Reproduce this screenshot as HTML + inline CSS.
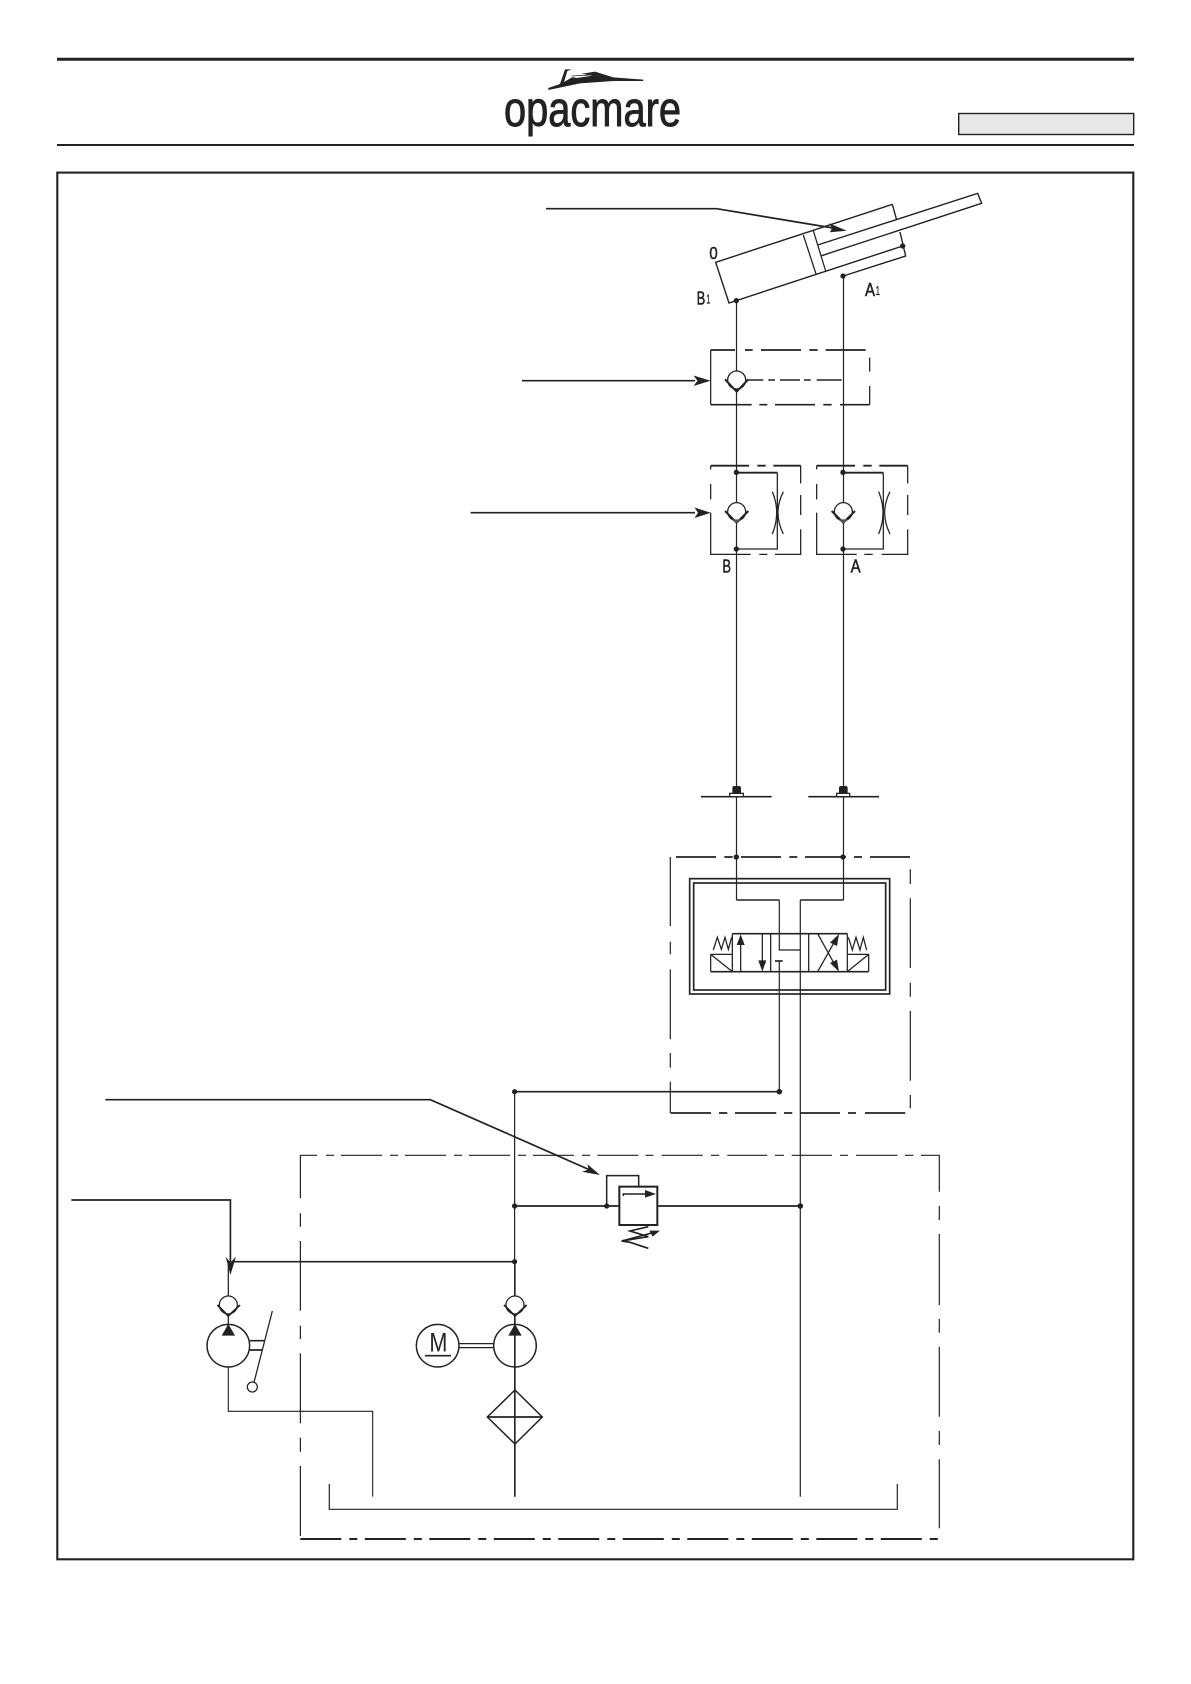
<!DOCTYPE html>
<html><head><meta charset="utf-8"><style>
html,body{margin:0;padding:0;background:#fff}
svg{display:block}
text{font-family:"Liberation Sans",sans-serif;fill:#222;stroke:none}
</style></head><body>
<svg width="1191" height="1684" viewBox="0 0 1191 1684" xmlns="http://www.w3.org/2000/svg">
<rect width="1191" height="1684" fill="#fff"/>
<g fill="none" stroke="#222" stroke-width="1.2">
<!-- header -->
<path d="M57 59.3H1134" stroke-width="3"/>
<path d="M57 145H1134" stroke-width="2"/>
<rect x="958.7" y="113.5" width="175" height="21" fill="#e8e8e8" stroke-width="1.4"/>
<!-- frame -->
<rect x="57.3" y="172.6" width="1076" height="1386.7" stroke-width="2.1"/>

<!-- leaders -->
<path d="M546 208.7H716.7L836 228.5" stroke-width="1.7"/>
<path d="M846.7 230.7L829 223.3L832 228L830 232.3Z" fill="#222" stroke="none"/>
<path d="M522 380.7H695" stroke-width="1.7"/>
<path d="M710.7 380.7L693.5 375.5L697.5 380.7L693.5 386Z" fill="#222" stroke="none"/>
<path d="M470.6 512.7H695" stroke-width="1.7"/>
<path d="M710.7 512.7L694.5 507.5L698 512.7L694.5 518Z" fill="#222" stroke="none"/>
<path d="M105.4 1099.7H430.4L590 1170" stroke-width="1.7"/>
<path d="M600 1175L587.5 1164.3L588.5 1169.5L582 1171.7Z" fill="#222" stroke="none"/>
<path d="M71.4 1200H230.4V1262" stroke-width="1.7"/>
<path d="M230.4 1275L225.7 1256.7L230.4 1262.5L236 1256.7Z" fill="#222" stroke="none"/>

<!-- main pipes -->
<path d="M736.5 300V900M843.5 276V900"/>
<path d="M736.5 900H779.3M800.3 900H843.5" stroke-width="1.6"/>
<path d="M779.3 900V950H800.3M800.3 900V1496.7M779.3 961V1091.7"/>
<path d="M514.6 1091.7V1496.7"/>
<path d="M514.6 1091.7H779.3M514.6 1206H800.3M232 1261.7H514.6" stroke-width="1.7"/>
<g fill="#222" stroke="none">
<circle cx="514.6" cy="1091.7" r="2.6"/><circle cx="779.3" cy="1091.7" r="2.8"/>
<circle cx="514.6" cy="1206" r="2.6"/><circle cx="606.7" cy="1206" r="2.6"/>
<circle cx="800.3" cy="1206" r="2.8"/><circle cx="514.6" cy="1261.7" r="2.6"/>
</g>

<!-- big dash box 2 -->
<path d="M939.3 1155.3H921M913.3 1155.3H905M897.3 1155.3H856M848 1155.3H840M832 1155.3H791.7M784 1155.3H775M767.3 1155.3H727.3M719.3 1155.3H711M702.7 1155.3H661.7M653.5 1155.3H645.5M638.4 1155.3H597.4M590 1155.3H582M574 1155.3H533M526 1155.3H518M510 1155.3H469M462 1155.3H454M446 1155.3H405M398 1155.3H390M382 1155.3H341M334 1155.3H326M317 1155.3H300.4"/>
<path d="M300.4 1155V1198.3M300.4 1213.3V1226.7M300.4 1241V1310.7M300.4 1325.7V1339M300.4 1353.3V1423.3M300.4 1437.7V1451.7M300.4 1466V1536"/>
<path d="M939.3 1155V1191.7M939.3 1206V1220M939.3 1234V1305M939.3 1319V1332.7M939.3 1346.7V1416.7M939.3 1431V1445M939.3 1459.3V1528.3"/>
<path d="M300.3 1539H938.3" stroke-width="2" stroke-dasharray="41 8 8 7.5"/>
<path d="M329.3 1484V1509.3H897.3V1484"/>

<!-- dash box 1 (valve) -->
<path d="M670.3 857V926M670.3 941.7V954.3M670.3 969.3V1039.3M670.3 1053V1067.7M670.3 1081.7V1113"/>
<path d="M910.3 869.3V884M910.3 898.3V968M910.3 982.7V996.7M910.3 1011V1080.7M910.3 1095V1108.3"/>
<path d="M670.7 1113H711M719 1113H727.3M735 1113H776.3M784 1113H792.3M800.3 1113H840M848 1113H856M865 1113H905.3" stroke-width="1.8"/>
</g>

<!-- zoom group: cylinder / check -->
<g transform="translate(680 170) scale(.33333)" fill="none" stroke="#222" stroke-width="3.8">
<path d="M637 103L107 277L147 399L668 228" stroke-width="4.2"/>
<path d="M637 103L650 150M660 186L677 258L490 318" stroke-width="4.2"/>
<path d="M370 195L408 312M400 182L437 303"/>
<path d="M413 225L893 70L905 100L425 257" stroke-width="4.2"/>
<path d="M92 540H165M195 540H218M243 540H363M388 540H413M437 540H557M92 704H215M238 704H262M285 704H405M430 704H455M480 704H569" stroke-width="5"/>
<path d="M92 540V704M569 563V605M569 648V704"/>
<path d="M205 630H250M265 630H285M300 630H360M372 630H392M410 630H485" stroke-width="4.5"/>
<circle cx="170" cy="630" r="27" fill="#fff" stroke-width="4"/>
<path d="M135 628L170 665L205 628" stroke-width="6"/>
<circle cx="668" cy="228" r="8" fill="#222" stroke="none"/>
<circle cx="489" cy="318" r="8" fill="#222" stroke="none"/>
<circle cx="169" cy="392" r="8" fill="#222" stroke="none"/>
<text x="88" y="267" font-size="54" textLength="25" lengthAdjust="spacingAndGlyphs" stroke="#222" stroke-width="1.5" style="stroke:#222">0</text>
<text x="50" y="403" font-size="56" textLength="26" lengthAdjust="spacingAndGlyphs" style="stroke:#222;stroke-width:1.5">B</text>
<text x="79" y="400" font-size="38" textLength="12" lengthAdjust="spacingAndGlyphs" style="stroke:#222;stroke-width:1">1</text>
<text x="555" y="378" font-size="56" textLength="30" lengthAdjust="spacingAndGlyphs" style="stroke:#222;stroke-width:1.5">A</text>
<text x="587" y="375" font-size="38" textLength="13" lengthAdjust="spacingAndGlyphs" style="stroke:#222;stroke-width:1">1</text>
</g>

<!-- zoom group: check+throttle -->
<g transform="translate(680 440) scale(.33333)" fill="none" stroke="#222" stroke-width="3.8">
<path d="M92 77H207M232 77H257M280 77H362M410 77H525M550 77H575M598 77H683" stroke-width="5.5"/>
<path d="M92 77V88M92 132V178M92 218V343H212M238 343H262M285 343H362V268M362 225V165M362 130V77"/>
<path d="M410 77V88M410 132V178M410 218V343H530M553 343H578M605 343H683V268M683 225V165M683 130V77"/>
<path d="M169 98H292M489 98H610" stroke-width="5.5"/>
<path d="M292 98V327H169M610 98V327H489"/>
<path d="M277 155Q303 218 277 282M310 155Q278 218 310 282"/>
<path d="M596 155Q622 218 596 282M630 155Q598 218 630 282"/>
<circle cx="170" cy="215" r="27" fill="#fff"/><circle cx="490" cy="215" r="27" fill="#fff"/>
<path d="M135 213L170 248L205 213M455 213L490 248L525 213" stroke-width="6"/>
<path d="M155 238H185L170 250ZM475 238H505L490 250Z" fill="#555" stroke="none"/>
<g fill="#222" stroke="none">
<circle cx="169" cy="97" r="8"/><circle cx="169" cy="327" r="8"/>
<circle cx="489" cy="97" r="8"/><circle cx="489" cy="327" r="8"/>
</g>
<text x="127" y="398" font-size="56" textLength="26" lengthAdjust="spacingAndGlyphs" style="stroke:#222;stroke-width:1.5">B</text>
<text x="512" y="398" font-size="56" textLength="30" lengthAdjust="spacingAndGlyphs" style="stroke:#222;stroke-width:1.5">A</text>
</g>

<!-- zoom group: flanges & valve -->
<g transform="translate(660 780) scale(.33333)" fill="none" stroke="#222" stroke-width="3.8">
<path d="M123 50H335M445 50H657" stroke-width="5"/>
<rect x="209" y="40" width="41" height="10" fill="#fff"/><rect x="530" y="40" width="39" height="10" fill="#fff"/>
<path d="M217 40V24Q217 18 223 18H237Q243 18 243 24V40ZM537 40V24Q537 18 543 18H557Q563 18 563 24V40Z" fill="#222" stroke="none"/>
<path d="M48 231H168M193 231H218M243 231H363M388 231H412M435 231H558M582 231H606M630 231H750" stroke-width="5.5"/>
<circle cx="229" cy="231" r="8" fill="#222" stroke="none"/><circle cx="549" cy="231" r="8" fill="#222" stroke="none"/>
<rect x="89" y="296" width="600" height="346" stroke-width="5"/>
<rect x="101" y="309" width="576" height="321" stroke-width="5"/>
<path d="M217 461H562M152 575H626" stroke-width="5"/>
<path d="M217 461V575M332 461V575M446 461V575M562 461V575"/>
<path d="M152 523H217M152 523V575M152 523L217 575M562 523H626V575M626 523L562 575" stroke-width="3.8"/>
<path d="M160 510L172 472L184 508L195 472L205 508L215 472M565 472L577 510L588 472L600 510L610 472L620 510"/>
<path d="M242 575V490M307 461V545M473 575L532 470M473 461L532 568"/>
<path d="M242 463L230 495H254ZM307 575L295 541H319ZM537 462L510 488L531 498ZM537 575L510 549L531 539Z" fill="#222" stroke="none"/>
<path d="M345 543H368" stroke-width="5"/>
</g>

<!-- zoom group: pumps -->
<g transform="translate(190 1250) scale(.33333)" fill="none" stroke="#222" stroke-width="3.8">
<path d="M115 36V140M115 198V222M975 36V140M975 198V740"/>
<path d="M115 350V484H548V740" stroke-width="3.3"/>
<circle cx="115" cy="165" r="27" fill="#fff"/><circle cx="975" cy="165" r="27" fill="#fff"/>
<path d="M82 165L115 198L150 165M942 165L975 198L1010 165" stroke-width="5.5"/>
<circle cx="115" cy="287" r="64" stroke-width="4.5"/>
<circle cx="975" cy="287" r="64" stroke-width="4.5"/>
<path d="M115 222L95 257H135ZM975 222L955 257H995Z" fill="#222" stroke="none"/>
<path d="M180 272H222M180 300H217" stroke-width="5"/>
<path d="M247 183L192 397"/>
<circle cx="187" cy="411" r="15" fill="#fff"/>
<circle cx="743" cy="287" r="64" stroke-width="4.5"/>
<text x="718" y="305" font-size="80" textLength="54" lengthAdjust="spacingAndGlyphs">M</text>
<path d="M705 317H783" stroke-width="5"/>
<path d="M808 281H910M808 293H910"/>
<path d="M975 420L1057 501L975 582L892 501Z" stroke-width="4.5"/>
<path d="M892 501H1057" stroke-width="5"/>
</g>

<!-- zoom group: relief -->
<g transform="translate(580 1160) scale(.33333)" fill="none" stroke="#222" stroke-width="3.8">
<path d="M80 138V47H176V80" stroke-width="4.5"/>
<rect x="118" y="80" width="114" height="115" fill="#fff" stroke-width="6"/>
<path d="M130 108V102H200" stroke-width="4.5"/>
<path d="M228 102L195 90V113Z" fill="#222" stroke="none"/>
<path d="M205 200L150 213L205 230L125 243L150 247L205 265" stroke-width="5"/>
<path d="M125 243L215 219" stroke-width="5"/>
<path d="M240 212L208 212L218 230Z" fill="#222" stroke="none"/>
</g>

<!-- logo -->
<g transform="translate(480 60) scale(.33333)">
<path d="M205 84L240 72L255 28H275L262 33L252 66L290 44L345 35L400 52L490 59L490 63L400 63L300 70L205 90Z" fill="#222"/>
<path d="M268 50L300 41L338 47L290 54Z" fill="#fff"/>
<path d="M275 48L335 45" stroke="#222" stroke-width="2" fill="none"/>
</g>
<text x="504" y="126" font-size="49" textLength="177" lengthAdjust="spacingAndGlyphs" style="stroke:#222;stroke-width:.9">opacmare</text>
</svg>
</body></html>
